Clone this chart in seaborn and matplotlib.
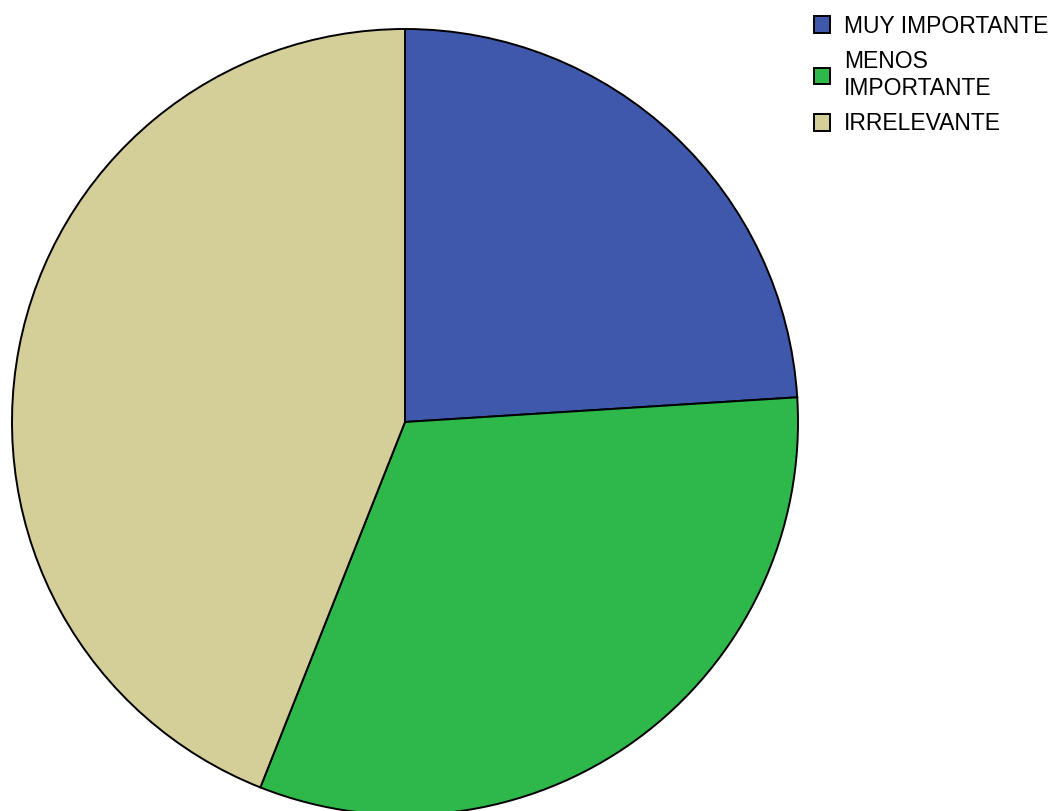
import matplotlib
matplotlib.use('Agg')
import matplotlib.pyplot as plt
import seaborn as sns

categorias = ['MUY IMPORTANTE', 'MENOS\nIMPORTANTE', 'IRRELEVANTE']
valores = [24, 32, 44]
colores = ['#3F58AC', '#2EB84A', '#D4CE99']

sns.set_style('white')
plt.rcParams['font.family'] = ['Liberation Sans', 'DejaVu Sans']
plt.rcParams['text.color'] = 'black'

fig = plt.figure(figsize=(10.57, 8.11), dpi=100)
# centro del pastel ~ (405, 422) px, radio ~ 393 px
r = 393
ax = fig.add_axes([(405 - r) / 1057, (811 - 422 - r) / 811, 2 * r / 1057, 2 * r / 811])
wedges, _ = ax.pie(valores, colors=colores, startangle=90, counterclock=False,
                   radius=1, wedgeprops={'edgecolor': 'black', 'linewidth': 1.4})
ax.set_xlim(-1, 1)
ax.set_ylim(-1, 1)
ax.set_aspect('equal')
ax.axis('off')

fig.legend(wedges, categorias, loc='upper left', bbox_to_anchor=(809 / 1057, 1 - 10 / 811),
           frameon=False, fontsize=16.5, handlelength=0.72, handleheight=0.72,
           handletextpad=0.62, labelspacing=0.55, borderaxespad=0, borderpad=0.2)

fig.savefig('out.png', dpi=100)
